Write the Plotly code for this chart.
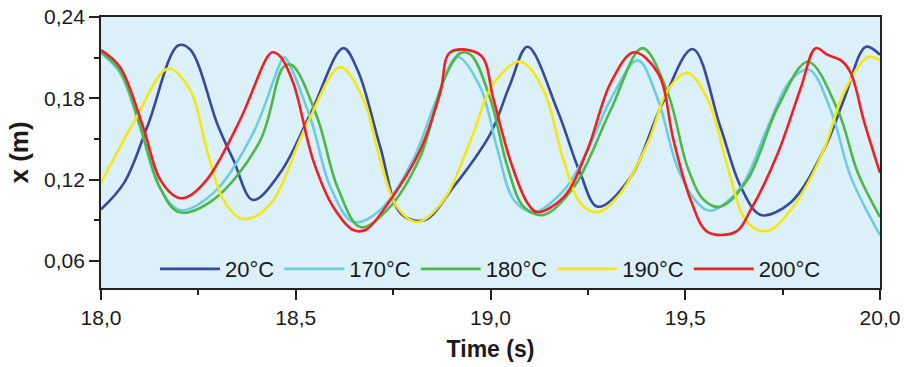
import plotly.graph_objects as go

# Displacement x (m) versus time (s) for five temperatures
t_20 = [18.0, 18.06, 18.12, 18.198, 18.229, 18.30, 18.34, 18.39, 18.46, 18.54, 18.622, 18.66, 18.717, 18.77, 18.83, 18.905, 19.0, 19.05, 19.095, 19.172, 19.23, 19.275, 19.36, 19.437, 19.519, 19.59, 19.643, 19.694, 19.77, 19.856, 19.907, 19.964, 20.0]
x_20 = [0.098, 0.118, 0.160, 0.219, 0.216, 0.160, 0.1345, 0.105, 0.125, 0.170, 0.217, 0.200, 0.144, 0.095, 0.090, 0.1146, 0.154, 0.190, 0.218, 0.171, 0.125, 0.100, 0.122, 0.1736, 0.2164, 0.159, 0.1145, 0.0939, 0.103, 0.142, 0.1787, 0.218, 0.212]

t_170 = [18.0, 18.049, 18.10, 18.15, 18.203, 18.288, 18.39, 18.46, 18.47, 18.537, 18.589, 18.648, 18.717, 18.80, 18.864, 18.915, 18.974, 19.018, 19.06, 19.11, 19.188, 19.25, 19.31, 19.378, 19.43, 19.48, 19.532, 19.566, 19.643, 19.712, 19.771, 19.818, 19.874, 19.925, 20.0]
x_170 = [0.2134, 0.1987, 0.159, 0.1145, 0.0976, 0.110, 0.154, 0.206, 0.2105, 0.166, 0.1145, 0.0887, 0.0976, 0.134, 0.181, 0.2105, 0.188, 0.142, 0.105, 0.096, 0.112, 0.142, 0.180, 0.208, 0.179, 0.129, 0.1027, 0.097, 0.1145, 0.159, 0.1935, 0.201, 0.171, 0.122, 0.079]

t_180 = [18.0, 18.05, 18.10, 18.15, 18.20, 18.288, 18.409, 18.468, 18.49, 18.555, 18.607, 18.666, 18.735, 18.82, 18.88, 18.923, 18.95, 19.0, 19.044, 19.085, 19.136, 19.214, 19.308, 19.39, 19.455, 19.506, 19.548, 19.59, 19.66, 19.738, 19.815, 19.892, 19.943, 20.0]
x_180 = [0.214, 0.200, 0.160, 0.115, 0.096, 0.105, 0.149, 0.203, 0.2046, 0.166, 0.1145, 0.085, 0.0976, 0.137, 0.1935, 0.2134, 0.212, 0.179, 0.129, 0.100, 0.0939, 0.1145, 0.171, 0.217, 0.184, 0.129, 0.105, 0.100, 0.120, 0.1736, 0.207, 0.171, 0.125, 0.0924]

t_190 = [18.0, 18.083, 18.173, 18.229, 18.272, 18.314, 18.357, 18.39, 18.443, 18.51, 18.537, 18.614, 18.674, 18.717, 18.76, 18.812, 18.88, 18.949, 19.008, 19.077, 19.136, 19.188, 19.231, 19.275, 19.326, 19.404, 19.455, 19.506, 19.558, 19.609, 19.65, 19.686, 19.72, 19.789, 19.856, 19.907, 19.969, 20.0]
x_190 = [0.1175, 0.1617, 0.202, 0.186, 0.142, 0.105, 0.0916, 0.092, 0.105, 0.149, 0.166, 0.203, 0.179, 0.134, 0.100, 0.0887, 0.105, 0.149, 0.191, 0.207, 0.186, 0.134, 0.1027, 0.096, 0.107, 0.147, 0.186, 0.1987, 0.179, 0.129, 0.0924, 0.0828, 0.083, 0.105, 0.142, 0.184, 0.2105, 0.208]

t_200 = [18.0, 18.049, 18.108, 18.152, 18.195, 18.22, 18.272, 18.357, 18.427, 18.44, 18.46, 18.494, 18.545, 18.596, 18.648, 18.68, 18.743, 18.82, 18.871, 18.897, 18.974, 19.008, 19.051, 19.095, 19.12, 19.188, 19.249, 19.308, 19.368, 19.43, 19.47, 19.514, 19.558, 19.63, 19.668, 19.738, 19.797, 19.835, 19.866, 19.90, 19.925, 19.96, 20.0]
x_200 = [0.2156, 0.203, 0.159, 0.120, 0.107, 0.107, 0.120, 0.164, 0.2105, 0.214, 0.211, 0.191, 0.134, 0.100, 0.0828, 0.083, 0.105, 0.142, 0.184, 0.214, 0.212, 0.179, 0.134, 0.1027, 0.096, 0.107, 0.142, 0.191, 0.214, 0.1987, 0.149, 0.105, 0.0813, 0.0815, 0.0976, 0.1396, 0.188, 0.217, 0.212, 0.208, 0.1987, 0.162, 0.125]

series = [
    ("20°C", t_20, x_20, "#3748a0"),
    ("170°C", t_170, x_170, "#6dcde0"),
    ("180°C", t_180, x_180, "#4db848"),
    ("190°C", t_190, x_190, "#f5e812"),
    ("200°C", t_200, x_200, "#ed2024"),
]

x_tick_vals = [18.0, 18.5, 19.0, 19.5, 20.0]
x_tick_text = ["18,0", "18,5", "19,0", "19,5", "20,0"]
y_tick_vals = [0.06, 0.12, 0.18, 0.24]
y_tick_text = ["0,06", "0,12", "0,18", "0,24"]

fig = go.Figure()
for name, t, x, color in series:
    fig.add_trace(go.Scatter(
        x=t, y=x, name=name, mode="lines",
        line=dict(color=color, width=2.6, shape="spline", smoothing=1.0),
    ))

axis_font = dict(family="Liberation Sans, Arial, sans-serif", size=21, color="#1a1a1a")

fig.update_layout(
    width=904, height=367,
    margin=dict(l=101, r=24, t=17, b=79),
    paper_bgcolor="white",
    plot_bgcolor="#dcf0fa",
    font=axis_font,
    showlegend=True,
    legend=dict(
        orientation="h", x=0.5, xanchor="center", y=0.07, yanchor="middle",
        bgcolor="rgba(0,0,0,0)", font=dict(size=22, color="#1a1a1a"),
        itemwidth=60, tracegroupgap=0,
    ),
    xaxis=dict(
        range=[18.0, 20.0], tickvals=x_tick_vals, ticktext=x_tick_text,
        ticks="outside", ticklen=10, tickwidth=1.5, tickcolor="#222",
        minor=dict(dtick=0.25, ticks="outside", ticklen=5, tickwidth=1.5, tickcolor="#222"),
        showline=True, linecolor="#222", linewidth=1.5, mirror=True,
        showgrid=False, zeroline=False, automargin=False,
        title=dict(text="<b>Time (s)</b>", font=dict(size=23), standoff=13),
    ),
    yaxis=dict(
        range=[0.04, 0.24], tickvals=y_tick_vals, ticktext=y_tick_text,
        ticks="outside", ticklen=10, tickwidth=1.5, tickcolor="#222",
        minor=dict(dtick=0.03, ticks="outside", ticklen=5, tickwidth=1.5, tickcolor="#222"),
        showline=True, linecolor="#222", linewidth=1.8, mirror=True,
        showgrid=False, zeroline=False, automargin=False,
        title=dict(text="<b>x (m)</b>", font=dict(size=26), standoff=8),
    ),
)

fig.write_html("out.html")
